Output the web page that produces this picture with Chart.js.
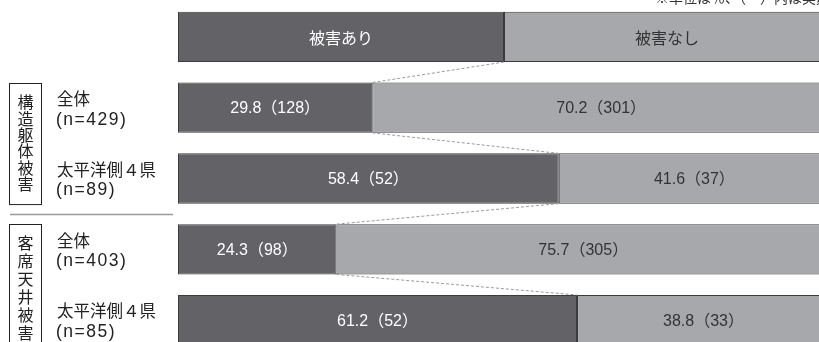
<!DOCTYPE html>
<html lang="ja">
<head>
<meta charset="UTF-8">
<title>被害の有無</title>
<script src="https://cdn.jsdelivr.net/npm/chart.js"></script>
<style>
    html, body { margin: 0; padding: 0; background: #fff; overflow: hidden; }
    /* chart is a bit larger than the window: the right and bottom of the figure are cut off like the original */
    #wrap { position: absolute; left: 0; top: 0; width: 830px; height: 356px; }
</style>
</head>
<body>
<div id="wrap"><canvas id="damageChart"></canvas></div>

<script>
    // rows: header + 4 groups
    const rowNames = ['header', '構造躯体被害・全体', '構造躯体被害・太平洋側4県', '客席天井被害・全体', '客席天井被害・太平洋側4県'];
    const rowLabels = ['', '全体', '太平洋側４県', '全体', '太平洋側４県'];
    const rowN = ['', '(n=429)', '(n=89)', '(n=403)', '(n=85)'];

    const yesPct = [50, 29.8, 58.4, 24.3, 61.2];
    const noPct = [50, 70.2, 41.6, 75.7, 38.8];
    const yesCount = [null, 128, 52, 98, 52];
    const noCount = [null, 301, 37, 305, 33];

    const headerNames = ['被害あり', '被害なし'];
    const groupNames = ['構造躯体被害', '客席天井被害'];
    const note = '※単位は％、（　）内は実数';

    const FONT = '"Noto Sans CJK JP", "Noto Sans", sans-serif';
    const LATIN = '"Liberation Sans", "Noto Sans CJK JP", sans-serif';

    const overlay = {
        id: 'overlay',
        afterDatasetsDraw(chart) {
            const ctx = chart.ctx;
            const yes = chart.getDatasetMeta(0).data;
            const no = chart.getDatasetMeta(1).data;

            // dashed connectors between splits
            ctx.save();
            ctx.strokeStyle = '#9a9a9a';
            ctx.lineWidth = 1;
            ctx.setLineDash([3, 2]);
            for (let i = 0; i < yes.length - 1; i++) {
                const a = yes[i], b = yes[i + 1];
                ctx.beginPath();
                ctx.moveTo(a.x, a.y + a.height / 2);
                ctx.lineTo(b.x, b.y - b.height / 2);
                ctx.stroke();
            }
            ctx.restore();

            // segment labels
            ctx.save();
            ctx.textAlign = 'center';
            ctx.textBaseline = 'middle';
            for (let i = 0; i < yes.length; i++) {
                const segs = [[yes[i], yesPct[i], yesCount[i], '#ffffff'], [no[i], noPct[i], noCount[i], '#333333']];
                segs.forEach(function (s, k) {
                    const el = s[0];
                    const cx = (el.x + el.base) / 2;
                    let txt;
                    if (i === 0) {
                        txt = headerNames[k];
                        ctx.font = '16px ' + FONT;
                    } else {
                        txt = s[1].toFixed(1) + '（' + s[2] + '）';
                        ctx.font = '16px ' + LATIN;
                    }
                    ctx.fillStyle = s[3];
                    ctx.fillText(txt, cx, el.y + 1);
                });
            }
            ctx.restore();

            // left side labels
            const ys = chart.scales.y;
            ctx.save();
            ctx.textAlign = 'left';
            ctx.textBaseline = 'middle';
            ctx.fillStyle = '#222';
            for (let i = 1; i < rowLabels.length; i++) {
                const cy = ys.getPixelForValue(i);
                ctx.font = '16.5px ' + FONT;
                ctx.letterSpacing = '0px';
                ctx.fillText(rowLabels[i], 57, cy - 9);
                ctx.font = '17.5px ' + LATIN;
                ctx.letterSpacing = '1.5px';
                ctx.fillText(rowN[i], 56, cy + 12);
            }
            ctx.restore();

            // group boxes with vertical text
            const h = yes[1].height;
            const boxes = [
                [yes[1].y - h / 2, yes[2].y + h / 2, 16.4],
                [yes[3].y - h / 2, yes[4].y + h / 2, 18]
            ];
            ctx.save();
            ctx.strokeStyle = '#222';
            ctx.lineWidth = 1;
            ctx.fillStyle = '#222';
            ctx.font = '16px ' + FONT;
            ctx.textAlign = 'center';
            ctx.textBaseline = 'middle';
            boxes.forEach(function (b, g) {
                ctx.strokeRect(9.5, Math.round(b[0]) + 0.5, 32, b[1] - b[0]);
                const chars = Array.from(groupNames[g]);
                const mid = (b[0] + b[1]) / 2 + (g === 1 ? 3 : 0);
                chars.forEach(function (c, j) {
                    ctx.fillText(c, 25.5, mid + (j - (chars.length - 1) / 2) * b[2]);
                });
            });
            // separator between groups
            const sepY = Math.round((boxes[0][1] + boxes[1][0]) / 2) + 0.5;
            ctx.strokeStyle = '#9a9a9a';
            ctx.lineWidth = 1.5;
            ctx.beginPath();
            ctx.moveTo(10, sepY);
            ctx.lineTo(173, sepY);
            ctx.stroke();
            ctx.restore();

            // note at top right (cut off at the top in the original)
            ctx.save();
            ctx.font = '14px ' + FONT;
            ctx.fillStyle = '#333';
            ctx.textAlign = 'right';
            ctx.textBaseline = 'alphabetic';
            ctx.fillText(note, chart.width, 3);
            ctx.restore();
        }
    };

    new Chart(document.getElementById('damageChart'), {
        type: 'bar',
        data: {
            labels: rowNames,
            datasets: [
                {
                    label: '被害あり',
                    data: yesPct,
                    backgroundColor: '#636367',
                    borderColor: '#3b3b3d',
                    borderWidth: 1,
                    borderSkipped: false
                },
                {
                    label: '被害なし',
                    data: noPct,
                    backgroundColor: '#a7a8ab',
                    borderColor: '#3b3b3d',
                    borderWidth: 1,
                    borderSkipped: false
                }
            ]
        },
        options: {
            indexAxis: 'y',
            responsive: true,
            maintainAspectRatio: false,
            animation: false,
            barPercentage: 0.71,
            categoryPercentage: 1,
            layout: { padding: { left: 178, right: 0, top: 1.5, bottom: 0.5 } },
            scales: {
                x: { stacked: true, min: 0, max: 100, display: false },
                y: { stacked: true, display: false }
            },
            plugins: {
                legend: { display: false },
                tooltip: { enabled: false }
            }
        },
        plugins: [overlay]
    });
</script>
</body>
</html>
